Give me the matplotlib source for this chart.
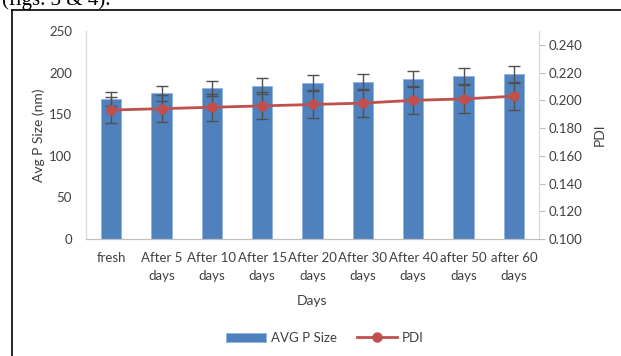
import matplotlib
matplotlib.use('Agg')
import matplotlib.pyplot as plt
from matplotlib.lines import Line2D
import numpy as np

# values
days = ['fresh', 'After 5\ndays', 'After 10\ndays', 'After 15\ndays', 'After 20\ndays',
        'After 30\ndays', 'After 40\ndays', 'after 50\ndays', 'after 60\ndays']
avg_size = [168, 175, 181, 184, 188, 189, 192, 196, 198]
size_err = [8.4, 8.8, 9.0, 9.2, 9.4, 9.5, 9.6, 9.8, 9.9]
pdi = [0.193, 0.194, 0.195, 0.196, 0.197, 0.198, 0.200, 0.201, 0.203]
pdi_err = [0.0097, 0.0097, 0.0098, 0.0098, 0.0099, 0.0099, 0.0100, 0.0100, 0.0101]

plt.rcParams['font.family'] = ['Lato', 'DejaVu Sans']
fs = 9.5
txt = '#404040'

fig = plt.figure(figsize=(6.21, 3.56), dpi=100)
ax = fig.add_axes([86/621, 1-239/356, (539-86)/621, (239-31)/356])
ax2 = ax.twinx()

x = np.arange(len(days))
bars = ax.bar(x, avg_size, width=0.4, color='#4F81BD', edgecolor='#8EB4E3',
              linewidth=0.6, label='AVG P Size', zorder=2)
ax.errorbar(x, avg_size, yerr=size_err, fmt='none', ecolor='#505050',
            elinewidth=1, capsize=4, capthick=1, zorder=3)

ax2.errorbar(x, pdi, yerr=pdi_err, fmt='none', ecolor='#505050',
             elinewidth=1, capsize=4, capthick=1, zorder=3)
line, = ax2.plot(x, pdi, color='#C0504D', lw=2, marker='o', markersize=6.5,
                 label='PDI', zorder=4)

ax.set_xlim(-0.5, len(days)-0.5)
ax.set_ylim(0, 250)
ax.set_yticks(range(0, 251, 50))
ax2.set_ylim(0.1, 0.25)
ax2.set_yticks(np.arange(0.10, 0.241, 0.02))
ax2.set_yticklabels(['%.3f' % v for v in np.arange(0.10, 0.241, 0.02)])

ax.set_xticks(x)
ax.set_xticklabels(days, fontsize=fs, color=txt, linespacing=1.7)
ax.tick_params(axis='x', length=0, pad=9)
ax.tick_params(axis='y', length=0, labelsize=fs, labelcolor=txt, pad=10)
ax2.tick_params(axis='y', length=4, color='#BFBFBF', labelsize=fs,
                labelcolor=txt, pad=3)

for a in (ax, ax2):
    a.spines['top'].set_visible(False)
    a.spines['left'].set_color('#D9D9D9')
    a.spines['right'].set_color('#D9D9D9')
    a.spines['bottom'].set_color('#BFBFBF')

ax.set_xlabel('Days', fontsize=fs+0.5, color=txt, labelpad=9)
ax.set_ylabel('Avg P Size (nm)', fontsize=fs+0.5, color=txt, labelpad=3)
ax2.set_ylabel('PDI', fontsize=fs+0.5, color=txt, labelpad=8, rotation=90)

fig.legend(handles=[bars, line], labels=['AVG P Size', 'PDI'], loc='center',
           bbox_to_anchor=(325/621, 1-338/356), ncol=2, frameon=False,
           fontsize=fs, handlelength=3, columnspacing=1.5, handletextpad=0.4,
           labelcolor=txt)

# frame around the chart and the cut-off text above it
fig.add_artist(Line2D([12/621, 12/621], [0, 1-10/356], color='black', lw=1.2,
                      transform=fig.transFigure))
fig.add_artist(Line2D([12/621, 1], [1-10/356, 1-10/356], color='black', lw=1.2,
                      transform=fig.transFigure))
fig.text(2/621, 1-5/356, '(figs. 3 & 4).', fontsize=15, family='Liberation Serif',
         va='baseline', ha='left', color='black')

fig.savefig('out.png', dpi=100)
